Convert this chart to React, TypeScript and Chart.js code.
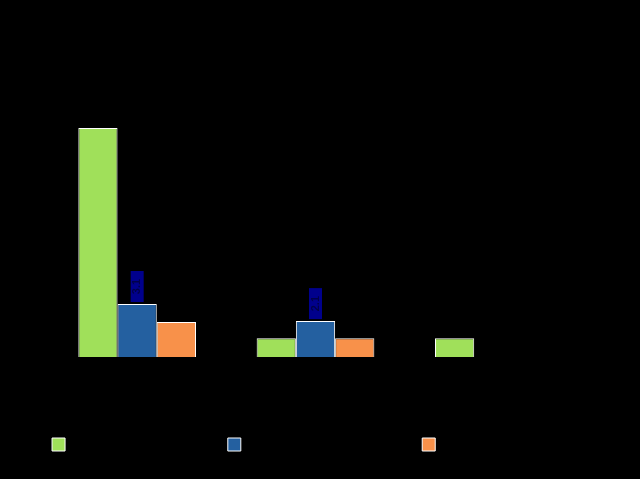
import React, { useEffect, useRef } from "react";
import { Chart, registerables } from "chart.js";

Chart.register(...registerables);

const categories = ["Category 1", "Category 2", "Category 3"];
const seriesNames = ["Series one,  first group total", "Series two - second group total", "Series three total"];
const greenValues = [13.4, 1.1, 1.1];
const blueValues = [3.1, 2.1, null];
const orangeValues = [2.05, 1.1, null];
const labelledSeries = 1;

const labelPlugin = {
  id: "navyLabels",
  afterDatasetsDraw(chart: any) {
    const ctx = chart.ctx;
    const meta = chart.getDatasetMeta(labelledSeries);
    const ds = chart.data.datasets[labelledSeries];
    meta.data.forEach((bar: any, i: number) => {
      const v = ds.data[i];
      if (v == null) return;
      const w = 13;
      const h = 31;
      const x = bar.x - w / 2;
      const y = bar.y - 2 - h;
      ctx.save();
      ctx.fillStyle = "#00008C";
      ctx.fillRect(x, y, w, h);
      ctx.translate(bar.x, y + h / 2);
      ctx.rotate(-Math.PI / 2);
      ctx.fillStyle = "#00004a";
      ctx.font = "bold 11px 'Liberation Sans', Arial, sans-serif";
      ctx.textAlign = "center";
      ctx.textBaseline = "middle";
      ctx.fillText(String(v), 0, 0);
      ctx.restore();
    });
  },
};

export default function App() {
  const ref = useRef<HTMLCanvasElement | null>(null);
  useEffect(() => {
    document.body.style.margin = "0";
    document.body.style.background = "#000";
    const canvas = ref.current!;
    const chart = new Chart(canvas, {
      type: "bar",
      data: {
        labels: categories,
        datasets: [
          { label: seriesNames[0], data: greenValues, backgroundColor: "#A0E05A", borderColor: "#ffffff", borderWidth: 1 },
          { label: seriesNames[1], data: blueValues, backgroundColor: "#2460A0", borderColor: "#ffffff", borderWidth: 1 },
          { label: seriesNames[2], data: orangeValues, backgroundColor: "#F8914A", borderColor: "#ffffff", borderWidth: 1 },
        ],
      },
      options: {
        animation: false,
        responsive: false,
        maintainAspectRatio: false,
        layout: { padding: { left: 1, right: 57, top: 59, bottom: 18 } },
        datasets: { bar: { categoryPercentage: 0.66, barPercentage: 1 } },
        plugins: {
          title: { display: true, text: "Chart title", color: "#000000", font: { size: 18 } },
          legend: {
            position: "bottom",
            labels: { color: "#000000", boxWidth: 13, boxHeight: 13, padding: 10, font: { size: 12, family: "'Liberation Sans', Arial" } },
          },
          tooltip: { enabled: false },
        },
        scales: {
          x: {
            grid: { display: false },
            border: { display: false },
            ticks: { color: "#000000" },
            afterFit: (s: any) => { s.height = 71; },
          },
          y: {
            min: 0,
            max: 15,
            grid: { display: false },
            border: { display: false },
            ticks: { color: "#000000", stepSize: 5 },
            afterFit: (s: any) => { s.width = 47; },
          },
        },
      },
      plugins: [labelPlugin],
    } as any);
    return () => chart.destroy();
  }, []);
  return (
    <div style={{ width: 640, height: 479, background: "#000" }}>
      <canvas ref={ref} width={640} height={479} style={{ display: "block" }} />
    </div>
  );
}
